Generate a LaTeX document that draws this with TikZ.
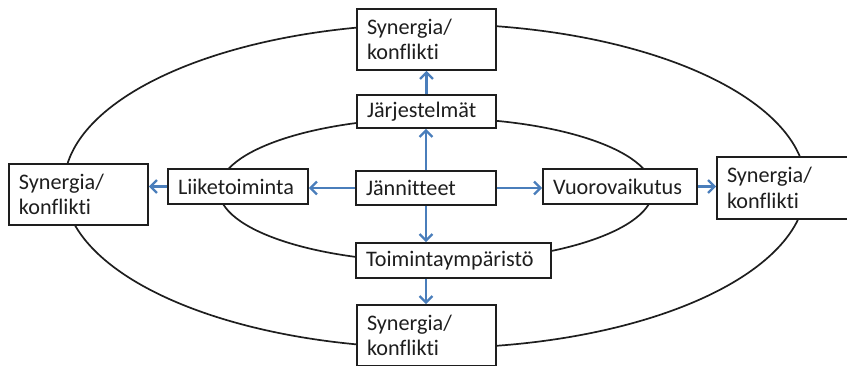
\documentclass[tikz,border=0pt]{standalone}
\usepackage{fontspec}
\setmainfont{Carlito}[Ligatures=NoCommon]
\usetikzlibrary{arrows.meta}
\definecolor{linkblue}{RGB}{74,126,187}
\definecolor{ink}{RGB}{30,30,30}
\tikzset{
  box/.style={draw=ink, line width=1.7pt, fill=white, inner xsep=10pt, inner ysep=0pt,
    align=left, text=ink, font=\fontsize{22.2}{25.5}\selectfont},
  ring/.style={draw=ink, line width=1.7pt},
  arr/.style={draw=linkblue, line width=2.3pt,
    -{Straight Barb[length=6.5pt,width=13pt]}}
}
\begin{document}
\begin{tikzpicture}[x=1pt,y=-1pt]
\useasboundingbox (0,0) rectangle (847,365);
% two concentric rings
\draw[ring] (435,186) ellipse [x radius=371, y radius=162];
\draw[ring] (436,190) ellipse [x radius=217, y radius=72];
% boxes
\node[box, text width=119pt, minimum height=61pt] (sTop) at (426.5,39.5) {Synergia/\\konflikti};
\node[box, text width=119pt, minimum height=33pt] (jar) at (426.5,111.5) {Järjestelmät};
\node[box, text width=119pt, minimum height=61pt] (sLeft) at (78.5,194.5) {Synergia/\\konflikti};
\node[box, text width=120pt, minimum height=35pt] (lii) at (238,186.5) {Liiketoiminta};
\node[box, text width=120pt, minimum height=34pt] (jan) at (426,188) {Jännitteet};
\node[box, text width=175pt, minimum height=35pt] (toi) at (453.5,260.5) {Toimintaympäristö};
\node[box, text width=119pt, minimum height=61pt] (sBot) at (426.5,335.5) {Synergia/\\konflikti};
\node[box, text width=134pt, minimum height=35pt] (vuo) at (620,186.5) {Vuorovaikutus};
\node[box, text width=119pt, minimum height=62pt] (sRight) at (786.5,188) {Synergia/\\konflikti};
% arrows
\draw[arr] (jan.north) -- (jan.north |- jar.south);
\draw[arr] (jar.south |- jar.north) -- (jar.south |- sTop.south);
\draw[arr] (jan.south) -- (jan.south |- toi.north);
\draw[arr] (jan.south |- toi.south) -- (jan.south |- sBot.north);
\draw[arr] (jan.west) -- (jan.west -| lii.east);
\draw[arr] (lii.west) -- (lii.west -| sLeft.east);
\draw[arr] (jan.east) -- (jan.east -| vuo.west);
\draw[arr] (vuo.east) -- (vuo.east -| sRight.west);
\end{tikzpicture}
\end{document}
